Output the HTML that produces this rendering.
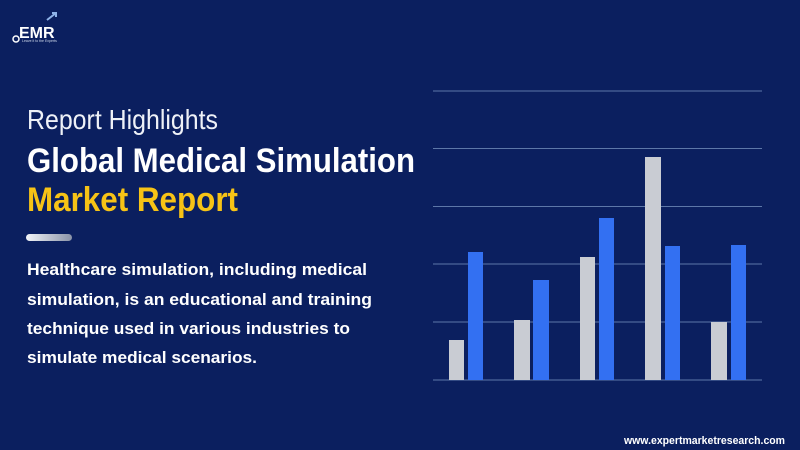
<!DOCTYPE html>
<html><head><meta charset="utf-8"><style>
html,body{margin:0;padding:0;background:#0b1f5f;}
svg{display:block;}
</style></head><body>
<svg width="800" height="450" viewBox="0 0 800 450" xmlns="http://www.w3.org/2000/svg" font-family="Liberation Sans, sans-serif">
<defs>
<linearGradient id="pill" x1="0" x2="1" y1="0" y2="0">
<stop offset="0" stop-color="#f2f4f8"/><stop offset="1" stop-color="#8a93a8"/>
</linearGradient>
</defs>
<rect width="800" height="450" fill="#0b1f5f"/>
<!-- logo -->
<text x="19" y="38" font-size="16" font-weight="bold" fill="#ffffff">EMR</text>
<path d="M47 20 L56 13 M52 13 L56 13 L56 17" stroke="#8fb3e8" stroke-width="2" fill="none"/>
<circle cx="16" cy="39" r="3" fill="none" stroke="#fff" stroke-width="1.5"/>
<text x="22" y="42" font-size="3.5" fill="#cfd8ea">Leave it to the Experts</text>
<!-- text -->
<text x="27" y="129" font-size="28" fill="#eef1f7" textLength="191" lengthAdjust="spacingAndGlyphs">Report Highlights</text>
<text x="27" y="172" font-size="34" font-weight="bold" fill="#ffffff" textLength="388" lengthAdjust="spacingAndGlyphs">Global Medical Simulation</text>
<text x="27" y="211" font-size="34" font-weight="bold" fill="#f7c316" textLength="211" lengthAdjust="spacingAndGlyphs">Market Report</text>
<rect x="26" y="234" width="46" height="7" rx="3.5" fill="url(#pill)"/>
<g font-size="17" font-weight="bold" fill="#ffffff">
<text x="27" y="275" textLength="340" lengthAdjust="spacingAndGlyphs">Healthcare simulation, including medical</text>
<text x="27" y="305" textLength="345" lengthAdjust="spacingAndGlyphs">simulation, is an educational and training</text>
<text x="27" y="334" textLength="323" lengthAdjust="spacingAndGlyphs">technique used in various industries to</text>
<text x="27" y="363" textLength="230" lengthAdjust="spacingAndGlyphs">simulate medical scenarios.</text>
</g>
<!-- grid -->
<g stroke="#5d77a8" stroke-width="1">
<line x1="433" x2="762" y1="91" y2="91"/>
<line x1="433" x2="762" y1="148.5" y2="148.5"/>
<line x1="433" x2="762" y1="206.5" y2="206.5"/>
<line x1="433" x2="762" y1="264" y2="264"/>
<line x1="433" x2="762" y1="322" y2="322"/>
<line x1="433" x2="762" y1="380" y2="380"/>
</g>
<g fill="#c9ccd3">
<rect x="449" y="340" width="15" height="40"/>
<rect x="514" y="320" width="16" height="60"/>
<rect x="580" y="257" width="15" height="123"/>
<rect x="645" y="157" width="16" height="223"/>
<rect x="711" y="322" width="16" height="58"/>
</g>
<g fill="#3370f2">
<rect x="468" y="252" width="15" height="128"/>
<rect x="533" y="280" width="16" height="100"/>
<rect x="599" y="218" width="15" height="162"/>
<rect x="665" y="246" width="15" height="134"/>
<rect x="731" y="245" width="15" height="135"/>
</g>
<text x="785" y="444" font-size="11" font-weight="bold" fill="#ffffff" text-anchor="end" textLength="161" lengthAdjust="spacingAndGlyphs">www.expertmarketresearch.com</text>
</svg>
</body></html>
